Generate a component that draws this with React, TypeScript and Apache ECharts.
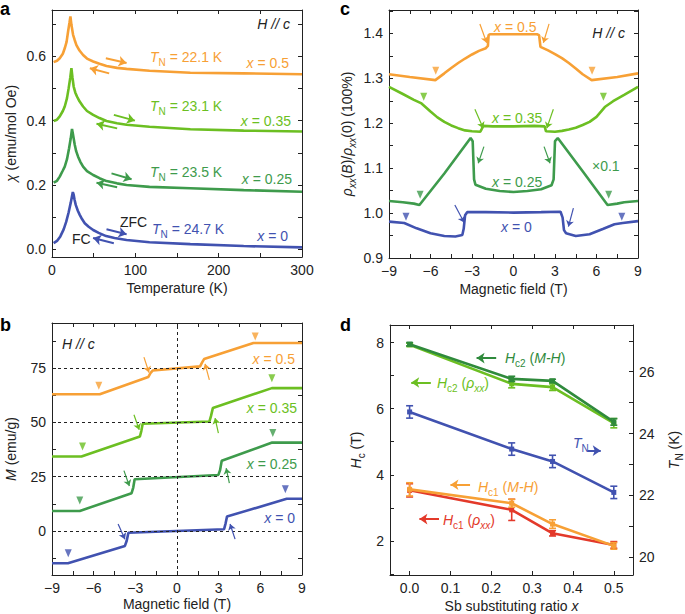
import React, { useEffect, useRef } from 'react';
import * as echarts from 'echarts';

const FONT = '"Liberation Sans", Arial, Helvetica, sans-serif';
const INK = '#222';
const ORANGE = '#F7A035';
const LGREEN = '#6CBF22';
const DGREEN = '#3E9B4C';
const DGREEN_D = '#2F8A3C';
const BLUE = '#4152B0';
const RED = '#E3392A';

// ---------- panel a : chi vs T ----------
const chiX0: number[][] = [[2,0.019],[6,0.026],[10,0.04],[14,0.062],[17,0.085],[20,0.115],[22.5,0.145],[24,0.165],[25,0.178],[26,0.17],[27,0.155],[28.5,0.138],[31,0.12],[33.3,0.107],[36,0.094],[39.3,0.081],[44,0.07],[49.4,0.06],[56,0.051],[65,0.041],[75,0.035],[89.5,0.029],[117,0.022],[166,0.016],[230,0.01],[300,0.006]];
const chiX025: number[][] = [[2,0.207],[6,0.213],[9.3,0.226],[13,0.245],[15.3,0.257],[18,0.28],[20.5,0.314],[22.5,0.345],[24,0.374],[25,0.36],[27.3,0.325],[29,0.305],[31.3,0.288],[34,0.272],[37.3,0.257],[42,0.243],[49.4,0.231],[57,0.221],[65.4,0.212],[78,0.205],[89.5,0.2],[117,0.194],[166,0.19],[230,0.184],[300,0.179]];
const chiX035: number[][] = [[2,0.399],[6,0.403],[9.3,0.413],[13,0.43],[15.3,0.444],[18,0.47],[20,0.501],[22,0.535],[23.3,0.563],[24.5,0.535],[26,0.506],[28,0.487],[30,0.475],[33,0.46],[37.3,0.444],[42,0.43],[49.4,0.418],[57,0.408],[65.4,0.399],[78,0.392],[89.5,0.387],[117,0.381],[166,0.373],[230,0.369],[300,0.366]];
const chiX05: number[][] = [[2,0.582],[6,0.586],[9.3,0.594],[13,0.608],[15.3,0.625],[17.5,0.645],[19.3,0.677],[21,0.705],[22.1,0.724],[23.3,0.698],[25.3,0.667],[27.3,0.65],[29.3,0.635],[33,0.618],[37.3,0.604],[42,0.593],[49.4,0.584],[57,0.577],[65.4,0.57],[78,0.564],[89.5,0.561],[117,0.555],[166,0.549],[230,0.547],[300,0.544]];
const arrowsA = [
  { c: ORANGE, p: [[64.6,0.594],[89.5,0.579]] }, { c: ORANGE, p: [[68.6,0.547],[45.4,0.563]] },
  { c: LGREEN, p: [[74.2,0.418],[99.5,0.4]] }, { c: LGREEN, p: [[78.2,0.376],[53.4,0.39]] },
  { c: DGREEN, p: [[71.4,0.236],[95.5,0.218]] }, { c: DGREEN, p: [[78.2,0.193],[53.4,0.207]] },
  { c: BLUE, p: [[65.4,0.062],[89.5,0.047]] }, { c: BLUE, p: [[74.2,0.019],[49.3,0.035]] },
];

// ---------- panel b : M vs H ----------
const mX0: number[][] = [[-9,-14.9],[-7.85,-14.9],[-3.75,-6.9],[-3.62,-4.5],[-3.5,-0.8],[3.39,0.8],[3.5,3.5],[3.6,6.6],[7.9,14.8],[9,14.8]];
const mX025: number[][] = [[-9,9.2],[-7,9.2],[-3.27,17.4],[-3.15,20],[-3.05,23.8],[2.98,25.8],[3.1,28],[3.22,32.3],[6.85,40.7],[9,40.7]];
const mX035: number[][] = [[-9,34.3],[-6.88,34.3],[-2.67,43.5],[-2.57,46],[-2.47,49.4],[2.33,50.4],[2.45,53],[2.58,56.6],[6.83,65.8],[9,65.8]];
const mX05: number[][] = [[-9,63],[-5.56,63],[-2.07,70.9],[-1.9,72.8],[-1.75,73.9],[1.66,75.8],[1.8,77.5],[1.95,79.2],[5.5,86.6],[9,86.6]];
const triB = { blue: [[-7.83,-10.3],[7.8,19.2]], dg: [[-7,14],[6.9,45.1]], lg: [[-6.8,38.9],[6.83,70.4]], or: [[-5.63,66.9],[5.63,89.6]] };
const arrowsB = [
  { c: BLUE, p: [[-4.24,3.2],[-3.75,-3.8]] }, { c: BLUE, p: [[4.18,-3.8],[3.82,3.2]] },
  { c: DGREEN, p: [[-3.82,27.8],[-3.43,20.7]] }, { c: DGREEN, p: [[3.77,22],[3.54,28.9]] },
  { c: LGREEN, p: [[-3.1,53.5],[-2.72,46.6]] }, { c: LGREEN, p: [[2.98,45.1],[2.74,52]] },
  { c: ORANGE, p: [[-2.38,80.1],[-2.02,73]] }, { c: ORANGE, p: [[2.33,69.6],[2.02,77]] },
];
const guideValuesB = [0, 25, 50, 75];

// ---------- panel c : rho ratio vs H ----------
const rX05: number[][] = [[-9,1.309],[-7.5,1.303],[-5.65,1.296],[-5,1.311],[-4.5,1.323],[-4,1.334],[-3.5,1.344],[-3,1.353],[-2.5,1.361],[-2,1.367],[-1.85,1.372],[-1.8,1.396],[-1.7,1.398],[0,1.398],[1.7,1.398],[1.85,1.396],[1.95,1.37],[2.5,1.362],[3,1.354],[3.5,1.345],[4,1.334],[4.5,1.322],[5,1.309],[5.65,1.296],[7.5,1.303],[9,1.311]];
const rX035: number[][] = [[-9,1.281],[-8,1.265],[-7.2,1.252],[-6.65,1.244],[-6,1.226],[-5.5,1.213],[-5,1.203],[-4.5,1.195],[-4,1.189],[-3.5,1.184],[-3,1.182],[-2.4,1.181],[-2.3,1.187],[-2.2,1.194],[-1.5,1.193],[0,1.193],[1.5,1.194],[2.25,1.193],[2.35,1.182],[3,1.181],[3.5,1.183],[4,1.186],[4.5,1.19],[5,1.196],[5.5,1.203],[6,1.214],[6.6,1.236],[7.2,1.249],[8,1.263],[9,1.281]];
const rX025: number[][] = [[-9,1.027],[-8,1.024],[-7.2,1.021],[-6.8,1.018],[-5,1.088],[-3.1,1.167],[-2.95,1.16],[-2.85,1.075],[-2.75,1.063],[-2,1.054],[-1,1.049],[0,1.047],[1,1.049],[2,1.053],[2.75,1.062],[2.9,1.075],[3,1.16],[3.2,1.167],[5,1.093],[6.8,1.018],[7.5,1.021],[8,1.024],[9,1.027]];
const rX0: number[][] = [[-9,0.981],[-7.9,0.978],[-7,0.966],[-6,0.955],[-5,0.949],[-4.2,0.948],[-3.7,0.951],[-3.6,0.965],[-3.5,0.995],[-3.35,1.002],[-2,1.002],[0,1.001],[2,1.002],[3.4,1.003],[3.55,0.99],[3.65,0.962],[3.8,0.955],[4.5,0.949],[5.5,0.953],[6.5,0.965],[7.3,0.975],[7.9,0.978],[9,0.982]];
const triC = { blue: [[-7.77,0.992],[7.83,0.992]], dg: [[-6.75,1.041],[6.88,1.041]], lg: [[-6.49,1.259],[6.5,1.259]], or: [[-5.62,1.317],[5.68,1.317]] };
const arrowsC = [
  { c: ORANGE, p: [[-2.43,1.421],[-1.94,1.379]] }, { c: ORANGE, p: [[2.57,1.421],[2.16,1.379]] },
  { c: LGREEN, p: [[-2.79,1.231],[-2.19,1.189]] }, { c: LGREEN, p: [[2.88,1.231],[2.41,1.189]] },
  { c: DGREEN, p: [[-2.14,1.148],[-2.55,1.111]] }, { c: DGREEN, p: [[2.21,1.148],[2.64,1.111]] },
  { c: BLUE, p: [[-4.24,1.018],[-3.57,0.979]] }, { c: BLUE, p: [[4.33,1.011],[3.97,0.97]] },
];

// ---------- panel d : critical fields and T_N ----------
const sbX = [0, 0.25, 0.35, 0.5];
const hc2MH = [7.95, 6.9, 6.84, 5.6];
const hc2MHErr = [0.05, 0.08, 0.05, 0.1];
const hc2Rho = [7.93, 6.75, 6.65, 5.56];
const hc2RhoErr = [0.05, 0.12, 0.1, 0.14];
const tN = [24.7, 23.5, 23.1, 22.1];
const tNErr = [0.2, 0.2, 0.2, 0.2];
const hc1MH = [3.56, 3.14, 2.51, 1.85];
const hc1MHErr = [0.2, 0.12, 0.13, 0.1];
const hc1Rho = [3.53, 2.94, 2.23, 1.88];
const hc1RhoErr = [0.2, 0.32, 0.08, 0.1];
const arrowsD = [
  { c: DGREEN_D, p: [[0.212,7.53],[0.164,7.53]] },
  { c: LGREEN, p: [[0.052,6.79],[0.004,6.79]] },
  { c: BLUE, p: [[0.436,4.73],[0.468,4.73]] },
  { c: ORANGE, p: [[0.148,3.7],[0.1,3.7]] },
  { c: RED, p: [[0.072,2.66],[0.024,2.66]] },
];

// tick values
const ticksTa = [0, 50, 100, 150, 200, 250, 300];
const labelsTa = [0, 100, 200, 300];
const ticksChi = [0, 0.1, 0.2, 0.3, 0.4, 0.5, 0.6, 0.7];
const labelsChi = [0, 0.2, 0.4, 0.6];
const ticksH = [-9, -7.5, -6, -4.5, -3, -1.5, 0, 1.5, 3, 4.5, 6, 7.5, 9];
const labelsH = [-9, -6, -3, 0, 3, 6, 9];
const ticksM = [-12.5, 0, 12.5, 25, 37.5, 50, 62.5, 75, 87.5];
const labelsM = [0, 25, 50, 75];
const ticksRho = [0.9, 0.95, 1.0, 1.05, 1.1, 1.15, 1.2, 1.25, 1.3, 1.35, 1.4, 1.45];
const labelsRho = [0.9, 1.0, 1.1, 1.2, 1.3, 1.4];
const ticksSb = [0, 0.1, 0.2, 0.3, 0.4, 0.5];
const ticksHc = [1, 2, 3, 4, 5, 6, 7, 8];
const labelsHc = [2, 4, 6, 8];
const ticksTN = [20, 21, 22, 23, 24, 25, 26, 27];
const labelsTN = [20, 22, 24, 26];

function rich(color: string, size = 14) {
  const base = { fontSize: size, fontFamily: FONT, fill: color, color, lineHeight: 20, verticalAlign: 'middle' };
  const sub = { fontSize: Math.round(size * 0.72), fontFamily: FONT, fill: color, color, lineHeight: 13, verticalAlign: 'bottom' };
  return {
    n: base,
    i: { ...base, fontStyle: 'italic' },
    s: sub,
    si: { ...sub, fontStyle: 'italic' },
  };
}

const minus = (v: number) => String(v).replace('-', '\u2212');
const fix1 = (v: number) => v.toFixed(1);

function axis(gridIndex: number, position: string, min: number, max: number, ticks: number[], labels: number[] | null, fmt: any, extra: any = {}) {
  return {
    type: 'value', gridIndex, position, min, max,
    axisLine: { show: true, onZero: false, lineStyle: { color: INK, width: 1 } },
    axisTick: { show: true, inside: true, length: 4, customValues: ticks, lineStyle: { color: INK, width: 1 } },
    axisLabel: labels
      ? { show: true, customValues: labels, formatter: fmt, color: INK, fontSize: 14, fontFamily: FONT, margin: 6 }
      : { show: false },
    splitLine: { show: false },
    ...extra,
  };
}

function axName(text: string, gap: number, rotate = 0) {
  return {
    name: text, nameLocation: 'middle', nameGap: gap, nameRotate: rotate,
    nameTextStyle: { color: INK, fontSize: 14, fontFamily: FONT, rich: rich(INK, 14) },
  };
}

const lineS = (xi: number, yi: number, data: number[][], color: string, width = 2.6, z = 3) => ({
  type: 'line', xAxisIndex: xi, yAxisIndex: yi, data, showSymbol: false, symbol: 'none',
  lineStyle: { color, width }, itemStyle: { color }, silent: true, z, clip: true,
});
const triS = (xi: number, yi: number, data: number[][], color: string) => ({
  type: 'scatter', xAxisIndex: xi, yAxisIndex: yi, data, symbol: 'triangle', symbolRotate: 180,
  symbolSize: [7, 8], itemStyle: { color }, silent: true, z: 4,
});
const arrowS = (xi: number, yi: number, arrows: { c: string; p: number[][] }[], width: number, size: number) => ({
  type: 'line', xAxisIndex: xi, yAxisIndex: yi, data: [], silent: true, z: 5,
  markLine: {
    silent: true, animation: false, symbol: ['none', 'arrow'], symbolSize: size, label: { show: false },
    lineStyle: { width, type: 'solid' },
    emphasis: { disabled: true },
    data: arrows.map((a) => [
      { coord: a.p[0], lineStyle: { color: a.c, width, type: 'solid' }, itemStyle: { color: a.c } },
      { coord: a.p[1], lineStyle: { color: a.c, width, type: 'solid' }, itemStyle: { color: a.c } },
    ]),
  },
});
const dPoints = (vals: number[]) => sbX.map((x, i) => [x, vals[i]]);
const dErr = (vals: number[], errs: number[]) => sbX.map((x, i) => [x, vals[i] - errs[i], vals[i] + errs[i]]);
const dLine = (yi: number, vals: number[], color: string, z: number) => ({
  type: 'line', xAxisIndex: 6, yAxisIndex: yi, data: dPoints(vals), showSymbol: true, symbol: 'rect', symbolSize: 5,
  lineStyle: { color, width: 2.6 }, itemStyle: { color }, silent: true, z,
});
const errS = (yi: number, vals: number[], errs: number[], color: string, z: number) => ({
  type: 'custom', xAxisIndex: 6, yAxisIndex: yi, data: dErr(vals, errs), silent: true, z,
  encode: { x: 0, y: [1, 2] },
  renderItem: (params: any, api: any) => {
    const x = api.value(0);
    const p1 = api.coord([x, api.value(1)]);
    const p2 = api.coord([x, api.value(2)]);
    const w = 3.5;
    const st = { stroke: color, lineWidth: 1.6 };
    return {
      type: 'group',
      children: [
        { type: 'line', shape: { x1: p1[0], y1: p1[1], x2: p2[0], y2: p2[1] }, style: st },
        { type: 'line', shape: { x1: p1[0] - w, y1: p1[1], x2: p1[0] + w, y2: p1[1] }, style: st },
        { type: 'line', shape: { x1: p2[0] - w, y1: p2[1], x2: p2[0] + w, y2: p2[1] }, style: st },
      ],
    };
  },
});

function txt(x: number, y: number, text: string, color: string, align = 'left', size = 14) {
  return {
    type: 'text', x, y, silent: true, z: 100,
    style: {
      text, rich: rich(color, size), fill: color, font: `${size}px ${FONT}`,
      align, verticalAlign: 'middle', textAlign: align, textVerticalAlign: 'middle',
    },
  };
}
function panelLabel(x: number, y: number, t: string) {
  return {
    type: 'text', x, y, silent: true, z: 100,
    style: { text: t, fill: '#000', font: `bold 18px ${FONT}`, align: 'left', verticalAlign: 'middle', textAlign: 'left', textVerticalAlign: 'middle' },
  };
}

function buildOption() {
  const xAxis = [
    axis(0, 'bottom', 0, 300, ticksTa, labelsTa, (v: number) => String(v), axName('Temperature (K)', 24)),
    axis(0, 'top', 0, 300, ticksTa, null, null),
    axis(1, 'bottom', -9, 9, ticksH, labelsH, minus, axName('Magnetic field (T)', 22)),
    axis(1, 'top', -9, 9, ticksH, null, null),
    axis(2, 'bottom', -9, 9, ticksH, labelsH, minus, axName('Magnetic field (T)', 24)),
    axis(2, 'top', -9, 9, ticksH, null, null),
    axis(3, 'bottom', -0.048, 0.547, ticksSb, ticksSb, fix1, axName('Sb substituting ratio {i|x}', 21)),
    axis(3, 'top', -0.048, 0.547, ticksSb, null, null),
  ];
  const yAxis = [
    axis(0, 'left', -0.024, 0.744, ticksChi, labelsChi, fix1, axName('{i|χ}{n| (emu/mol Oe)}', 31, 90)),
    axis(0, 'right', -0.024, 0.744, ticksChi, null, null),
    axis(1, 'left', -20.3, 95.8, ticksM, labelsM, (v: number) => String(v), axName('{i|M}{n| (emu/g)}', 31, 90)),
    axis(1, 'right', -20.3, 95.8, ticksM, null, null),
    axis(2, 'left', 0.9, 1.452, ticksRho, labelsRho, fix1, axName('{i|ρ}{si|xx}{n|(}{i|B}{n|)/}{i|ρ}{si|xx}{n|(0) (100%)}', 32, 90)),
    axis(2, 'right', 0.9, 1.452, ticksRho, null, null),
    axis(3, 'left', 0.97, 8.53, ticksHc, labelsHc, (v: number) => String(v), axName('{i|H}{s|c}{n| (T)}', 24, 90)),
    axis(3, 'right', 19.43, 27.51, ticksTN, labelsTN, (v: number) => String(v), axName('{i|T}{s|N}{n| (K)}', 31, 90)),
  ];

  const series: any[] = [
    // panel a
    lineS(0, 0, chiX0, BLUE),
    lineS(0, 0, chiX025, DGREEN),
    lineS(0, 0, chiX035, LGREEN),
    lineS(0, 0, chiX05, ORANGE),
    arrowS(0, 0, arrowsA, 2, 8),
    // panel b
    {
      type: 'line', xAxisIndex: 2, yAxisIndex: 2, data: [], silent: true, z: 1,
      markLine: {
        silent: true, animation: false, symbol: ['none', 'none'], label: { show: false },
        lineStyle: { color: INK, width: 1, type: [3, 3] },
        data: [...guideValuesB.map((v) => ({ yAxis: v })), { xAxis: 0 }],
      },
    },
    lineS(2, 2, mX0, BLUE),
    lineS(2, 2, mX025, DGREEN),
    lineS(2, 2, mX035, LGREEN),
    lineS(2, 2, mX05, ORANGE),
    triS(2, 2, triB.blue, BLUE), triS(2, 2, triB.dg, DGREEN), triS(2, 2, triB.lg, LGREEN), triS(2, 2, triB.or, ORANGE),
    arrowS(2, 2, arrowsB, 1.2, 6),
    // panel c
    lineS(4, 4, rX0, BLUE),
    lineS(4, 4, rX025, DGREEN),
    lineS(4, 4, rX035, LGREEN),
    lineS(4, 4, rX05, ORANGE),
    triS(4, 4, triC.blue, BLUE), triS(4, 4, triC.dg, DGREEN), triS(4, 4, triC.lg, LGREEN), triS(4, 4, triC.or, ORANGE),
    arrowS(4, 4, arrowsC, 1.2, 6),
    // panel d
    errS(6, hc2Rho, hc2RhoErr, LGREEN, 3), dLine(6, hc2Rho, LGREEN, 3),
    errS(6, hc2MH, hc2MHErr, DGREEN_D, 4), dLine(6, hc2MH, DGREEN_D, 4),
    errS(7, tN, tNErr, BLUE, 3), dLine(7, tN, BLUE, 3),
    errS(6, hc1Rho, hc1RhoErr, RED, 3), dLine(6, hc1Rho, RED, 3),
    errS(6, hc1MH, hc1MHErr, ORANGE, 4), dLine(6, hc1MH, ORANGE, 4),
    arrowS(6, 6, arrowsD, 2, 8),
  ];

  const graphic = [
    panelLabel(0, 9, 'a'), panelLabel(0, 325, 'b'), panelLabel(340, 9, 'c'), panelLabel(340, 325, 'd'),
    // panel a
    txt(290, 24, '{i|H // c}', INK, 'right'),
    txt(150, 57, '{i|T}{s|N}{n| = 22.1 K}', ORANGE),
    txt(289, 63, '{i|x}{n| = 0.5}', ORANGE, 'right'),
    txt(150, 106, '{i|T}{s|N}{n| = 23.1 K}', LGREEN),
    txt(291, 121, '{i|x}{n| = 0.35}', LGREEN, 'right'),
    txt(150, 172, '{i|T}{s|N}{n| = 23.5 K}', DGREEN),
    txt(292, 179, '{i|x}{n| = 0.25}', DGREEN, 'right'),
    txt(152, 229, '{i|T}{s|N}{n| = 24.7 K}', BLUE),
    txt(288, 236, '{i|x}{n| = 0}', BLUE, 'right'),
    txt(120, 222, '{n|ZFC}', INK),
    txt(72, 239, '{n|FC}', INK),
    // panel b
    txt(62, 344, '{i|H // c}', INK),
    txt(295, 359, '{i|x}{n| = 0.5}', ORANGE, 'right'),
    txt(297, 408, '{i|x}{n| = 0.35}', LGREEN, 'right'),
    txt(297, 464, '{i|x}{n| = 0.25}', DGREEN, 'right'),
    txt(295, 518, '{i|x}{n| = 0}', BLUE, 'right'),
    // panel c
    txt(494, 27, '{i|x}{n| = 0.5}', ORANGE),
    txt(625, 33, '{i|H // c}', INK, 'right'),
    txt(492, 118, '{i|x}{n| = 0.35}', LGREEN),
    txt(492, 182, '{i|x}{n| = 0.25}', DGREEN),
    txt(592, 166, '{n|×0.1}', DGREEN),
    txt(501, 227, '{i|x}{n| = 0}', BLUE),
    // panel d
    txt(505, 358, '{i|H}{s|c2}{n| (}{i|M-H}{n|)}', DGREEN_D),
    txt(437, 383, '{i|H}{s|c2}{n| (}{i|ρ}{si|xx}{n|)}', LGREEN),
    txt(573, 443, '{i|T}{s|N}', BLUE),
    txt(478, 487, '{i|H}{s|c1}{n| (}{i|M-H}{n|)}', ORANGE),
    txt(443, 520, '{i|H}{s|c1}{n| (}{i|ρ}{si|xx}{n|)}', RED),
  ];

  return {
    animation: false,
    backgroundColor: '#ffffff',
    textStyle: { fontFamily: FONT },
    grid: [
      { left: 52, top: 10, width: 250, height: 247 },
      { left: 52, top: 323, width: 250, height: 252 },
      { left: 389, top: 10, width: 249, height: 248 },
      { left: 390, top: 325, width: 248, height: 250 },
    ],
    xAxis, yAxis, series,
    graphic: { elements: graphic },
  };
}

export default function App() {
  const ref = useRef<HTMLDivElement>(null);
  useEffect(() => {
    if (!ref.current) return;
    const chart = echarts.init(ref.current, null, { renderer: 'svg' });
    chart.setOption(buildOption() as any);
    return () => chart.dispose();
  }, []);
  return <div ref={ref} style={{ position: 'absolute', left: 0, top: 0, width: 685, height: 614, background: '#fff' }} />;
}
